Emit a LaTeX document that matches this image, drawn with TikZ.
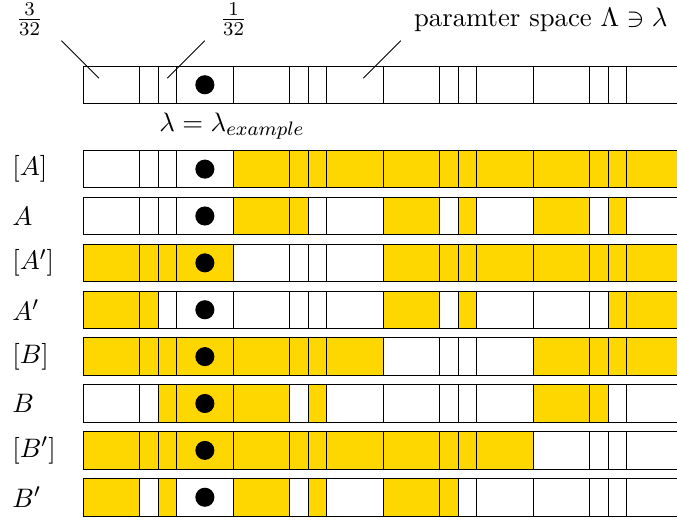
\documentclass[11pt,tikz,border=0pt]{standalone}
\usepackage{amsmath}
\usepackage{amssymb}
\usepackage{tikz}

\definecolor{gold}{RGB}{255,215,0}

\begin{document}
\begin{tikzpicture}[x=0.27cm,y=0.27cm,
    dot/.style={fill,circle,minimum size=2.75mm,inner sep=0},
    rowlabel/.style={anchor=west,inner sep=0},
    hit/.style={fill=gold}]
  \useasboundingbox (-4.4267,-24.267) rectangle (31.68,3.52);
  % parameter space
  \draw (0,0) rectangle (32,-2);
  \foreach \x in {3,4,5,8,11,12,13,16,19,20,21,24,27,28,29}
    \draw (\x,0) -- (\x,-2);
  \node[dot] (d0) at (6.5,-1) {};
  \node (f3) at (-2.85,2.5) {$\frac{3}{32}$};
  \node (f1) at (8.03,2.5) {$\frac{1}{32}$};
  \node[anchor=base east,inner sep=0] (ps) at (31.2,2.13) {paramter space $\Lambda \ni \lambda$};
  \node[anchor=base,inner sep=0] (ex) at (7.95,-3.5) {$\lambda = \lambda_{example}$};
  \coordinate (t3) at (-1.15,1.35); \coordinate (c3) at (0.85,-0.65);
  \coordinate (t1) at (6.5,1.35);   \coordinate (c1) at (4.5,-0.65);
  \coordinate (tp) at (16.95,1.35); \coordinate (cp) at (14.95,-0.65);
  \draw (t3) -- (c3) (t1) -- (c1) (tp) -- (cp);
  % events
  \foreach \lab/\fills [count=\i] in {
      {[A]}/{8/32},
      {A}/{8/12,16/19,20/21,24/27,28/29},
      {[A']}/{0/8,16/32},
      {A'}/{0/4,16/19,20/21,28/32},
      {[B]}/{0/16,24/32},
      {B}/{4/11,12/13,24/28},
      {[B']}/{0/24},
      {B'}/{0/3,4/5,8/11,12/13,16/20}}
  {
    \pgfmathsetmacro\yt{-4.5-2.5*(\i-1)}
    \foreach \a/\b in \fills
      \fill[hit] (\a,\yt) rectangle (\b,\yt-2);
    \draw (0,\yt) rectangle (32,\yt-2);
    \foreach \x in {3,4,5,8,11,12,13,16,19,20,21,24,27,28,29}
      \draw (\x,\yt) -- (\x,\yt-2);
    \node[dot] (d\i) at (6.5,\yt-1) {};
    \node[rowlabel] (r\i) at (-3.79,\yt-1) {$\lab$};
  }
\end{tikzpicture}
\end{document}
